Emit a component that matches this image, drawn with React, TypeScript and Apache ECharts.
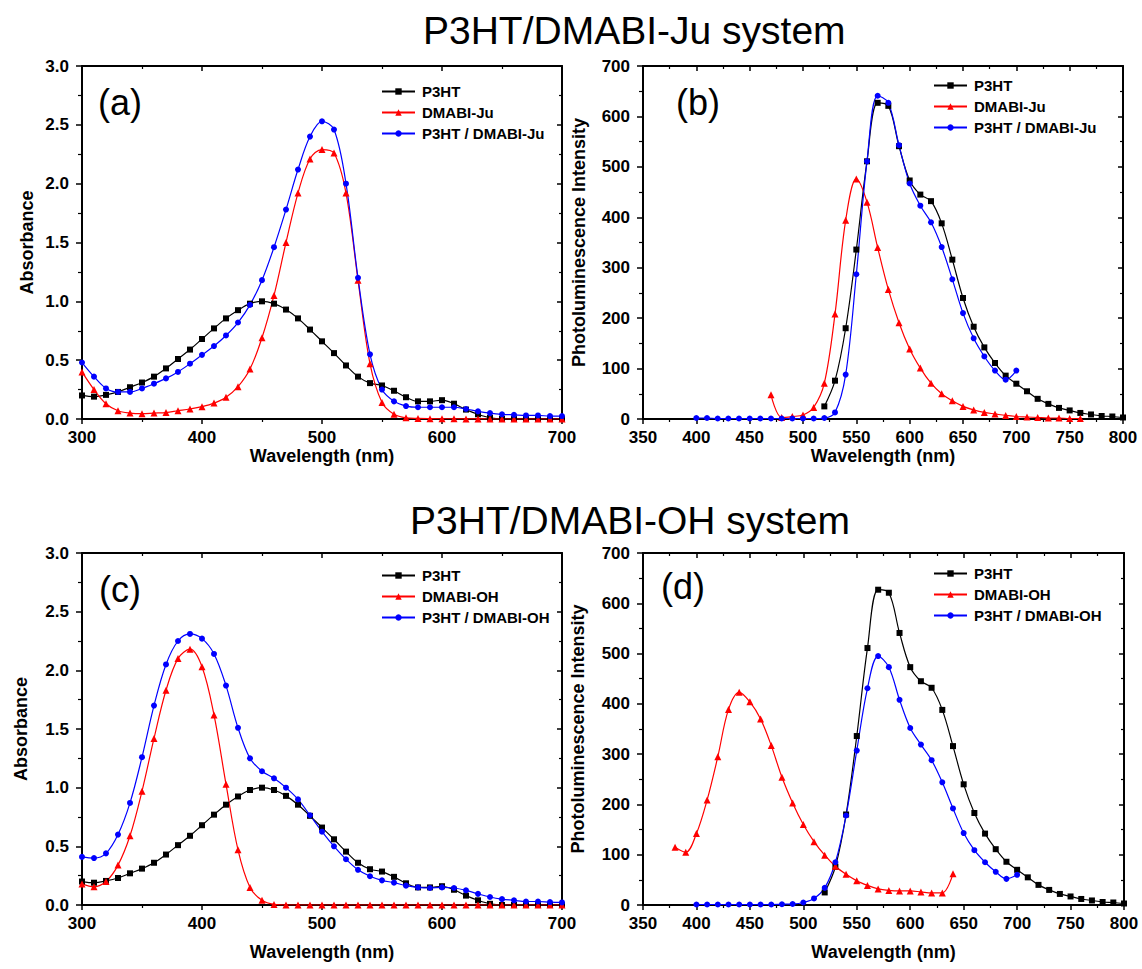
import React, { useEffect, useRef } from 'react';
import * as echarts from 'echarts';

// ---------- DATA ----------
const absWavelength = [300, 310, 320, 330, 340, 350, 360, 370, 380, 390, 400, 410, 420, 430, 440, 450, 460, 470, 480, 490, 500, 510, 520, 530, 540, 550, 560, 570, 580, 590, 600, 610, 620, 630, 640, 650, 660, 670, 680, 690, 700];
const p3htAbs = [0.20, 0.19, 0.205, 0.23, 0.27, 0.31, 0.36, 0.43, 0.51, 0.59, 0.68, 0.77, 0.855, 0.925, 0.98, 1.00, 0.98, 0.93, 0.855, 0.76, 0.66, 0.56, 0.455, 0.36, 0.305, 0.285, 0.24, 0.185, 0.15, 0.15, 0.16, 0.13, 0.08, 0.04, 0.01, 0.0, 0.0, 0.0, 0.0, 0.0, 0.0];
const dmabiJuAbs = [0.40, 0.25, 0.13, 0.07, 0.05, 0.045, 0.05, 0.055, 0.07, 0.085, 0.105, 0.135, 0.185, 0.275, 0.425, 0.69, 1.05, 1.50, 1.92, 2.21, 2.29, 2.26, 1.92, 1.18, 0.47, 0.14, 0.04, 0.01, 0.005, 0.003, 0.002, 0.002, 0.001, 0.001, 0, 0, 0, 0, 0, 0, 0];
const blendJuAbs = [0.48, 0.36, 0.26, 0.23, 0.23, 0.26, 0.30, 0.345, 0.40, 0.47, 0.545, 0.62, 0.71, 0.82, 0.97, 1.18, 1.46, 1.78, 2.12, 2.40, 2.53, 2.46, 2.00, 1.20, 0.55, 0.25, 0.15, 0.11, 0.10, 0.10, 0.10, 0.10, 0.085, 0.065, 0.05, 0.04, 0.035, 0.03, 0.03, 0.025, 0.025];
const dmabiOhAbs = [0.18, 0.155, 0.20, 0.34, 0.59, 0.97, 1.42, 1.83, 2.10, 2.18, 2.03, 1.62, 1.03, 0.47, 0.15, 0.04, 0.005, 0, 0, 0, 0, 0, 0, 0, 0, 0, 0, 0, 0, 0, 0, 0, 0, 0, 0, 0, 0, 0, 0, 0, 0];
const blendOhAbs = [0.41, 0.40, 0.44, 0.60, 0.87, 1.26, 1.70, 2.05, 2.25, 2.31, 2.27, 2.14, 1.87, 1.51, 1.25, 1.14, 1.08, 1.00, 0.90, 0.765, 0.625, 0.50, 0.39, 0.30, 0.245, 0.21, 0.19, 0.165, 0.15, 0.145, 0.15, 0.145, 0.125, 0.095, 0.068, 0.05, 0.04, 0.03, 0.03, 0.025, 0.022];

const p3htPLWavelength = [520, 530, 540, 550, 560, 570, 580, 590, 600, 610, 620, 630, 640, 650, 660, 670, 680, 690, 700, 710, 720, 730, 740, 750, 760, 770, 780, 790, 800];
const p3htPL = [25, 76, 180, 336, 511, 627, 621, 541, 473, 445, 432, 388, 316, 240, 183, 142, 111, 86, 70, 55, 40, 30, 22, 17, 12, 9, 6, 5, 3];
const dmabiJuPLWavelength = [470, 480, 490, 500, 510, 520, 530, 540, 550, 560, 570, 580, 590, 600, 610, 620, 630, 640, 650, 660, 670, 680, 690, 700, 710, 720, 730, 740, 750, 760];
const dmabiJuPL = [48, 3, 5, 8, 23, 71, 208, 394, 476, 430, 340, 257, 191, 139, 101, 71, 50, 36, 25, 18, 13, 10, 7, 5, 4, 3, 2, 2, 1, 1];
const blendJuPLWavelength = [400, 410, 420, 430, 440, 450, 460, 470, 480, 490, 500, 510, 520, 530, 540, 550, 560, 570, 580, 590, 600, 610, 620, 630, 640, 650, 660, 670, 680, 690, 700];
const blendJuPL = [2, 2, 1, 1, 1, 1, 1, 1, 1, 1, 1, 1, 2, 13, 88, 287, 511, 641, 627, 543, 467, 423, 390, 341, 277, 210, 160, 124, 96, 78, 96];
const dmabiOhPLWavelength = [380, 390, 400, 410, 420, 430, 440, 450, 460, 470, 480, 490, 500, 510, 520, 530, 540, 550, 560, 570, 580, 590, 600, 610, 620, 630, 640];
const dmabiOhPL = [115, 105, 142, 209, 295, 389, 423, 404, 370, 317, 254, 203, 160, 126, 99, 77, 61, 48, 39, 32, 29, 28, 28, 26, 24, 24, 62];
const blendOhPLWavelength = [400, 410, 420, 430, 440, 450, 460, 470, 480, 490, 500, 510, 520, 530, 540, 550, 560, 570, 580, 590, 600, 610, 620, 630, 640, 650, 660, 670, 680, 690, 700];
const blendOhPL = [1, 1, 1, 1, 1, 1, 1, 1, 1.5, 2, 5, 13, 34, 85, 178, 307, 431, 495, 473, 408, 352, 319, 288, 244, 192, 143, 109, 85, 66, 52, 60];

const titles = ['P3HT/DMABI-Ju system', 'P3HT/DMABI-OH system'];
const panelLabels = ['(a)', '(b)', '(c)', '(d)'];
const legendNames = [
  ['P3HT', 'DMABI-Ju', 'P3HT / DMABI-Ju'],
  ['P3HT', 'DMABI-Ju', 'P3HT / DMABI-Ju'],
  ['P3HT', 'DMABI-OH', 'P3HT / DMABI-OH'],
  ['P3HT', 'DMABI-OH', 'P3HT / DMABI-OH'],
];

// ---------- STYLE ----------
const FONT = '"Liberation Sans", Arial, Helvetica, sans-serif';
const BLACK = '#000000';
const RED = '#ff0000';
const BLUE = '#0000ff';

const grids = [
  { left: 82, top: 66, width: 480, height: 353 },
  { left: 643, top: 66, width: 480, height: 353 },
  { left: 82, top: 553, width: 480, height: 352 },
  { left: 643, top: 553, width: 481, height: 352 },
];

const zip = (xs: number[], ys: number[]) => xs.map((x, i) => [x, ys[i]]);

function mkSeries(name: string, xs: number[], ys: number[], color: string, symbol: string, gi: number) {
  return {
    type: 'line',
    name,
    xAxisIndex: gi * 2,
    yAxisIndex: gi * 2,
    data: zip(xs, ys),
    smooth: 0.35,
    symbol,
    symbolSize: symbol === 'triangle' ? 7 : 6,
    lineStyle: { color, width: 1.2 },
    itemStyle: { color },
    clip: true,
    z: 3,
  };
}

const tickStyle = { color: BLACK, width: 1.5 };
const minorStyle = { color: BLACK, width: 1.2 };

function xAxes(gi: number, min: number, max: number, interval: number, nameGap: number) {
  const base = {
    type: 'value',
    gridIndex: gi,
    min,
    max,
    interval,
    splitLine: { show: false },
    axisLine: { show: true, onZero: false, lineStyle: { color: BLACK, width: 2 } },
  };
  return [
    {
      ...base,
      position: 'bottom',
      name: 'Wavelength (nm)',
      nameLocation: 'middle',
      nameGap,
      nameTextStyle: { fontFamily: FONT, fontWeight: 'bold', fontSize: 18, color: BLACK },
      axisTick: { show: true, inside: false, length: 5, lineStyle: tickStyle },
      minorTick: { show: true, splitNumber: 2, length: 3, lineStyle: minorStyle },
      axisLabel: { fontFamily: FONT, fontWeight: 'bold', fontSize: 17, color: BLACK, margin: 10 },
    },
    {
      ...base,
      position: 'top',
      axisTick: { show: true, inside: true, length: 5, lineStyle: tickStyle },
      minorTick: { show: true, splitNumber: 2, length: 3, lineStyle: minorStyle },
      axisLabel: { show: false },
    },
  ];
}

function yAxes(gi: number, min: number, max: number, interval: number, name: string, nameGap: number, dec: number) {
  const base = {
    type: 'value',
    gridIndex: gi,
    min,
    max,
    interval,
    splitLine: { show: false },
    axisLine: { show: true, onZero: false, lineStyle: { color: BLACK, width: 2 } },
  };
  return [
    {
      ...base,
      position: 'left',
      name,
      nameLocation: 'middle',
      nameGap,
      nameRotate: 90,
      nameTextStyle: { fontFamily: FONT, fontWeight: 'bold', fontSize: 18, color: BLACK },
      axisTick: { show: true, inside: false, length: 6, lineStyle: tickStyle },
      minorTick: { show: true, splitNumber: 2, length: 4, lineStyle: minorStyle },
      axisLabel: {
        fontFamily: FONT, fontWeight: 'bold', fontSize: 17, color: BLACK, margin: 13,
        formatter: (v: number) => v.toFixed(dec),
      },
    },
    {
      ...base,
      position: 'right',
      axisTick: { show: true, inside: true, length: 5, lineStyle: tickStyle },
      minorTick: { show: true, splitNumber: 2, length: 3, lineStyle: minorStyle },
      axisLabel: { show: false },
    },
  ];
}

const legendPos = [
  { left: 381, top: 84 },
  { left: 933, top: 78 },
  { left: 381, top: 568 },
  { left: 933, top: 566 },
];

export default function App() {
  const ref = useRef<HTMLDivElement>(null);
  useEffect(() => {
    if (!ref.current) return;
    const chart = echarts.init(ref.current, undefined, { renderer: 'svg' });
    const option: any = {
      animation: false,
      backgroundColor: '#ffffff',
      grid: grids.map((g) => ({ ...g, containLabel: false })),
      xAxis: [
        ...xAxes(0, 300, 700, 100, 16),
        ...xAxes(1, 350, 800, 50, 16),
        ...xAxes(2, 300, 700, 100, 38),
        ...xAxes(3, 350, 800, 50, 38),
      ],
      yAxis: [
        ...yAxes(0, 0, 3, 0.5, 'Absorbance', 46, 1),
        ...yAxes(1, 0, 700, 100, 'Photoluminescence Intensity', 55, 0),
        ...yAxes(2, 0, 3, 0.5, 'Absorbance', 52, 1),
        ...yAxes(3, 0, 700, 100, 'Photoluminescence Intensity', 56, 0),
      ],
      legend: legendNames.map((names, i) => ({
        data: names,
        orient: 'vertical',
        left: legendPos[i].left,
        top: legendPos[i].top,
        itemWidth: 33,
        itemHeight: 8,
        itemGap: 6,
        padding: 0,
        selectedMode: false,
        textStyle: { fontFamily: FONT, fontWeight: 'bold', fontSize: 15, color: BLACK, padding: [0, 0, 0, 2] },
      })),
      series: [
        mkSeries('P3HT', absWavelength, p3htAbs, BLACK, 'rect', 0),
        mkSeries('DMABI-Ju', absWavelength, dmabiJuAbs, RED, 'triangle', 0),
        mkSeries('P3HT / DMABI-Ju', absWavelength, blendJuAbs, BLUE, 'circle', 0),
        mkSeries('P3HT', p3htPLWavelength, p3htPL, BLACK, 'rect', 1),
        mkSeries('DMABI-Ju', dmabiJuPLWavelength, dmabiJuPL, RED, 'triangle', 1),
        mkSeries('P3HT / DMABI-Ju', blendJuPLWavelength, blendJuPL, BLUE, 'circle', 1),
        mkSeries('P3HT', absWavelength, p3htAbs, BLACK, 'rect', 2),
        mkSeries('DMABI-OH', absWavelength, dmabiOhAbs, RED, 'triangle', 2),
        mkSeries('P3HT / DMABI-OH', absWavelength, blendOhAbs, BLUE, 'circle', 2),
        mkSeries('P3HT', p3htPLWavelength, p3htPL, BLACK, 'rect', 3),
        mkSeries('DMABI-OH', dmabiOhPLWavelength, dmabiOhPL, RED, 'triangle', 3),
        mkSeries('P3HT / DMABI-OH', blendOhPLWavelength, blendOhPL, BLUE, 'circle', 3),
      ],
      graphic: [
        { type: 'text', left: 423, top: 11, style: { text: titles[0], fontFamily: FONT, fontSize: 39, fill: BLACK } },
        { type: 'text', left: 410, top: 501, style: { text: titles[1], fontFamily: FONT, fontSize: 39, fill: BLACK } },
        { type: 'text', left: 98, top: 84, style: { text: panelLabels[0], fontFamily: FONT, fontSize: 36, fill: BLACK } },
        { type: 'text', left: 676, top: 84, style: { text: panelLabels[1], fontFamily: FONT, fontSize: 36, fill: BLACK } },
        { type: 'text', left: 99, top: 571, style: { text: panelLabels[2], fontFamily: FONT, fontSize: 36, fill: BLACK } },
        { type: 'text', left: 661, top: 568, style: { text: panelLabels[3], fontFamily: FONT, fontSize: 36, fill: BLACK } },
      ],
    };
    chart.setOption(option);
    return () => chart.dispose();
  }, []);
  return (
    <div
      ref={ref}
      style={{ position: 'absolute', left: 0, top: 0, width: 1142, height: 969, background: '#fff' }}
    />
  );
}
